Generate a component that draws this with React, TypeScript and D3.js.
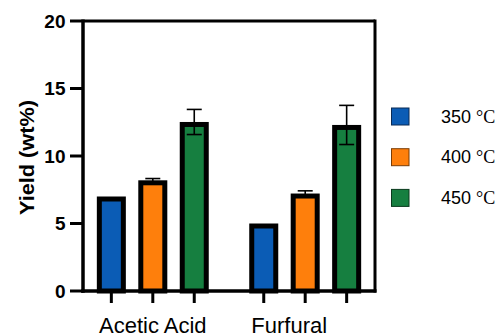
import React from "react";
import * as d3 from "d3";

const groups = ["Acetic Acid", "Furfural"];
const series = ["350", "400", "450"];
const colors = ["#0b5cb5", "#fe7f0c", "#167f40"];
const legendStroke = ["#0a2a55", "#7a3c05", "#0a3a1d"];
const means = [
  [7.0, 8.2, 12.52],
  [5.0, 7.22, 12.3],
];
const errors = [
  [0, 0.13, 0.93],
  [0, 0.2, 1.45],
];
const yTicks = [0, 5, 10, 15, 20];

const W = 497;
const H = 336;
const left = 83;
const right = 375;
const top = 21;
const bottom = 291;

export default function App() {
  const y = d3.scaleLinear().domain([0, 20]).range([bottom, top]);
  const x0 = d3
    .scaleBand<string>()
    .domain(groups)
    .range([left, right])
    .paddingInner(0.184)
    .paddingOuter(0.05);
  const x1 = d3
    .scaleBand<string>()
    .domain(series)
    .range([0, x0.bandwidth()])
    .paddingInner(0.3)
    .paddingOuter(0.15);
  const bw = x1.bandwidth();
  const sw = 5;
  const sans = "'Liberation Sans', Arial, sans-serif";
  const serif = "'Liberation Serif', 'Times New Roman', serif";
  const labelDx = [0, -16];

  return (
    <svg
      width={W}
      height={H}
      style={{ position: "absolute", left: 0, top: 0, background: "#fff" }}
    >
      {/* bars */}
      {groups.map((g, gi) =>
        series.map((s, si) => {
          const cx = (x0(g) as number) + (x1(s) as number) + bw / 2;
          const v = means[gi][si];
          const e = errors[gi][si];
          return (
            <g key={g + s}>
              <rect
                x={cx - bw / 2 + sw / 2}
                y={y(v) + sw / 2}
                width={bw - sw}
                height={y(0) - y(v) - sw / 2}
                fill={colors[si]}
                stroke="#000"
                strokeWidth={sw}
              />
              {e > 0 && (
                <g stroke="#000" strokeWidth={1.6}>
                  <line x1={cx} x2={cx} y1={y(v + e)} y2={y(v - e)} />
                  <line x1={cx - 7.5} x2={cx + 7.5} y1={y(v + e)} y2={y(v + e)} />
                  <line x1={cx - 7.5} x2={cx + 7.5} y1={y(v - e)} y2={y(v - e)} />
                </g>
              )}
              <line
                x1={cx}
                x2={cx}
                y1={y(0)}
                y2={y(0) + 12}
                stroke="#000"
                strokeWidth={3}
              />
            </g>
          );
        })
      )}
      {/* frame */}
      <line x1={left} x2={right} y1={top} y2={top} stroke="#000" strokeWidth={3} />
      <line x1={right} x2={right} y1={top - 1.5} y2={bottom + 1.5} stroke="#000" strokeWidth={3} />
      <line x1={left} x2={left} y1={top - 1.5} y2={bottom + 1.75} stroke="#000" strokeWidth={3.5} />
      <line x1={left - 1.75} x2={right + 1.5} y1={bottom} y2={bottom} stroke="#000" strokeWidth={3.5} />
      {/* y ticks */}
      {yTicks.map((t) => (
        <g key={t}>
          <line x1={70} x2={left} y1={y(t)} y2={y(t)} stroke="#000" strokeWidth={3} />
          <text
            x={65.5}
            y={y(t)}
            dy="0.36em"
            textAnchor="end"
            fontFamily={sans}
            fontWeight="bold"
            fontSize={19}
            fill="#000"
          >
            {t}
          </text>
        </g>
      ))}
      {/* y label */}
      <text
        transform={`translate(34,157.5) rotate(-90)`}
        textAnchor="middle"
        fontFamily={sans}
        fontWeight="bold"
        fontSize={20}
        textLength={115}
        lengthAdjust="spacingAndGlyphs"
        fill="#000"
      >
        Yield (wt%)
      </text>
      {/* x labels */}
      {groups.map((g, gi) => (
        <text
          key={g}
          x={(x0(g) as number) + x0.bandwidth() / 2 + labelDx[gi]}
          y={333}
          textAnchor="middle"
          fontFamily={sans}
          fontSize={22}
          fill="#000"
        >
          {g}
        </text>
      ))}
      {/* legend */}
      {series.map((s, si) => {
        const ly = 108 + si * 40.7;
        return (
          <g key={s}>
            <rect
              x={391.5}
              y={ly}
              width={17.5}
              height={17}
              fill={colors[si]}
              stroke={legendStroke[si]}
              strokeWidth={1}
            />
            <text x={441} y={ly + 14.5} fontSize={18} fill="#000">
              <tspan fontFamily={sans}>{s} </tspan>
              <tspan fontFamily={serif}>°C</tspan>
            </text>
          </g>
        );
      })}
    </svg>
  );
}
